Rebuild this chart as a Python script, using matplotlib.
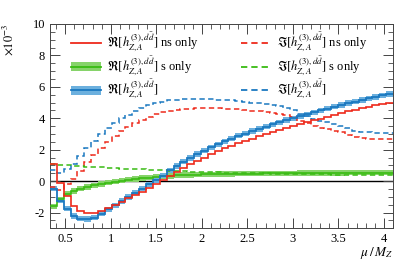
import numpy as np
import matplotlib
matplotlib.use("Agg")
import matplotlib.pyplot as plt
from matplotlib.lines import Line2D
from matplotlib.patches import Patch
from matplotlib.ticker import MultipleLocator, FuncFormatter

plt.rcParams["font.family"] = "serif"
plt.rcParams["font.serif"] = ["Liberation Serif", "DejaVu Serif"]
plt.rcParams["mathtext.fontset"] = "stix"

# ----- histogram range (mu / M_Z), 50 bins -----
X_LO = 1.0 / 3.0
X_HI = 4.1
N_BINS = 50

# Re[h] ns only (red solid), values x 1e-3
re_ns = [1.12, -0.1, -0.95, -1.6, -1.9, -2.05, -2.05, -1.9, -1.7, -1.5,
         -1.3, -1.1, -0.88, -0.66, -0.43, -0.2, 0.05, 0.35, 0.6, 0.85,
         1.08, 1.3, 1.5, 1.7, 1.9, 2.08, 2.25, 2.42, 2.55, 2.7,
         2.84, 2.98, 3.12, 3.25, 3.38, 3.5, 3.62, 3.74, 3.86, 3.98,
         4.1, 4.21, 4.32, 4.43, 4.53, 4.63, 4.73, 4.82, 4.91, 5.0]

# Re[h] s only (green solid)
re_s = [-1.6, -1.15, -0.8, -0.62, -0.48, -0.37, -0.27, -0.18, -0.1, -0.03,
        0.03, 0.09, 0.14, 0.19, 0.23, 0.27, 0.3, 0.33, 0.36, 0.38,
        0.4, 0.42, 0.43, 0.44, 0.45, 0.46, 0.46, 0.47, 0.47, 0.48,
        0.48, 0.49, 0.49, 0.5, 0.5, 0.5, 0.51, 0.51, 0.51, 0.52,
        0.52, 0.52, 0.52, 0.53, 0.53, 0.53, 0.53, 0.54, 0.54, 0.54]

# Re[h] total (blue solid)
re_tot = [-0.48, -1.25, -1.75, -2.22, -2.38, -2.42, -2.32, -2.08, -1.8, -1.53,
          -1.27, -1.01, -0.74, -0.47, -0.2, 0.07, 0.35, 0.68, 0.96, 1.23,
          1.48, 1.72, 1.93, 2.14, 2.35, 2.54, 2.71, 2.89, 3.02, 3.18,
          3.32, 3.47, 3.61, 3.75, 3.88, 4.0, 4.13, 4.25, 4.37, 4.5,
          4.62, 4.73, 4.84, 4.96, 5.06, 5.16, 5.26, 5.36, 5.45, 5.54]

# Im[h] ns only (red dashed)
im_ns = [-0.4, -0.55, -0.2, 0.15, 0.65, 1.2, 1.65, 2.1, 2.5, 2.85,
         3.2, 3.45, 3.7, 3.9, 4.1, 4.25, 4.38, 4.47, 4.54, 4.59,
         4.62, 4.64, 4.65, 4.65, 4.64, 4.62, 4.6, 4.57, 4.53, 4.49,
         4.45, 4.4, 4.34, 4.28, 4.2, 4.05, 3.85, 3.68, 3.52, 3.4,
         3.3, 3.2, 3.1, 2.95, 2.8, 2.72, 2.7, 2.68, 2.66, 2.65]

# Im[h] s only (green dashed)
im_s = [1.1, 1.05, 1.0, 0.97, 0.95, 0.93, 0.9, 0.88, 0.85, 0.82,
        0.8, 0.78, 0.76, 0.74, 0.72, 0.7, 0.68, 0.66, 0.64, 0.62,
        0.6, 0.58, 0.57, 0.56, 0.55, 0.54, 0.53, 0.52, 0.51, 0.5,
        0.5, 0.49, 0.48, 0.47, 0.47, 0.46, 0.45, 0.45, 0.44, 0.43,
        0.43, 0.42, 0.42, 0.41, 0.41, 0.4, 0.4, 0.39, 0.39, 0.38]

# Im[h] total (blue dashed)
im_tot = [0.7, 0.5, 0.8, 1.12, 1.6, 2.13, 2.55, 2.98, 3.35, 3.67,
          4.0, 4.23, 4.46, 4.64, 4.82, 4.95, 5.06, 5.13, 5.18, 5.21,
          5.22, 5.22, 5.22, 5.21, 5.19, 5.16, 5.13, 5.09, 5.04, 4.99,
          4.95, 4.89, 4.82, 4.75, 4.67, 4.51, 4.3, 4.13, 3.96, 3.83,
          3.73, 3.62, 3.52, 3.36, 3.21, 3.12, 3.1, 3.07, 3.05, 3.03]

# half width of the scale bands
BAND_S = 0.17
BAND_TOT = 0.17

RED = "#ee2a1b"
GREEN = "#38bb12"
BLUE = "#1a78c0"
GREEN_BAND = "#86d36a"
BLUE_BAND = "#6cb0de"

edges = np.linspace(X_LO, X_HI, N_BINS + 1)

fig = plt.figure(figsize=(4.05, 2.63), dpi=100)
ax = fig.add_axes([0.1235, 0.132, 0.847, 0.777])

ax.axhline(0, color="black", lw=1.0, zorder=1)

re_s_a = np.array(re_s)
re_tot_a = np.array(re_tot)

# bands
ax.stairs(re_s_a + BAND_S, edges, baseline=re_s_a - BAND_S, fill=True,
          color=GREEN_BAND, lw=0, zorder=2)
ax.stairs(re_tot_a + BAND_TOT, edges, baseline=re_tot_a - BAND_TOT, fill=True,
          color=BLUE_BAND, lw=0, zorder=2)

dash = (0, (3.5, 2.2))
ax.stairs(im_ns, edges, color=RED, lw=1.1, ls=dash, baseline=None, zorder=3)
ax.stairs(im_s, edges, color=GREEN, lw=1.1, ls=dash, baseline=None, zorder=3)
ax.stairs(im_tot, edges, color=BLUE, lw=1.1, ls=dash, baseline=None, zorder=3)

ax.stairs(re_s, edges, color=GREEN, lw=1.2, baseline=None, zorder=4)
ax.stairs(re_tot, edges, color=BLUE, lw=1.3, baseline=None, zorder=4)
ax.stairs(re_ns, edges, color=RED, lw=1.2, baseline=None, zorder=5)

ax.set_xlim(X_LO, X_HI)
ax.set_ylim(-3, 10)

ax.xaxis.set_major_locator(MultipleLocator(0.5))
ax.xaxis.set_minor_locator(MultipleLocator(0.1))
ax.yaxis.set_major_locator(MultipleLocator(2))
ax.yaxis.set_minor_locator(MultipleLocator(0.5))
fmt = FuncFormatter(lambda v, p: f"{v:g}")
ax.xaxis.set_major_formatter(fmt)
ax.yaxis.set_major_formatter(fmt)
ax.tick_params(which="both", direction="in", top=True, right=True,
               labelsize=9, color="#444444")
ax.tick_params(which="major", length=7, width=0.7)
ax.tick_params(which="minor", length=3.5, width=0.6)
for s in ax.spines.values():
    s.set_linewidth(0.7)
    s.set_color("#444444")

ax.set_xlabel(r"$\mu\,/\,M_Z$", loc="right", fontsize=9.5, labelpad=0)
fig.text(8 / 405, 1 - 40 / 263, r"$\times10^{-3}$", rotation=90,
         ha="center", va="center", fontsize=9)

lab = r"$\Re[h_{Z,A}^{(3),d\bar{d}}]$"
labi = r"$\Im[h_{Z,A}^{(3),d\bar{d}}]$"
handles = [
    Line2D([], [], color=RED, lw=1.3),
    (Patch(color=GREEN_BAND, lw=0), Line2D([], [], color=GREEN, lw=1.3)),
    (Patch(color=BLUE_BAND, lw=0), Line2D([], [], color=BLUE, lw=1.3)),
    Line2D([], [], color=RED, lw=1.3, ls=dash),
    Line2D([], [], color=GREEN, lw=1.3, ls=dash),
    Line2D([], [], color=BLUE, lw=1.3, ls=dash),
]
labels = [lab + " ns only", lab + " s only", lab,
          labi + " ns only", labi + " s only", labi]
ax.legend(handles, labels, ncol=2, loc="upper left", frameon=False,
          fontsize=9, handlelength=2.4, handleheight=0.7,
          handletextpad=0.5, columnspacing=3.4, labelspacing=0.0,
          borderpad=0.2, bbox_to_anchor=(0.035, 1.01))

fig.savefig("out.png", dpi=100)
